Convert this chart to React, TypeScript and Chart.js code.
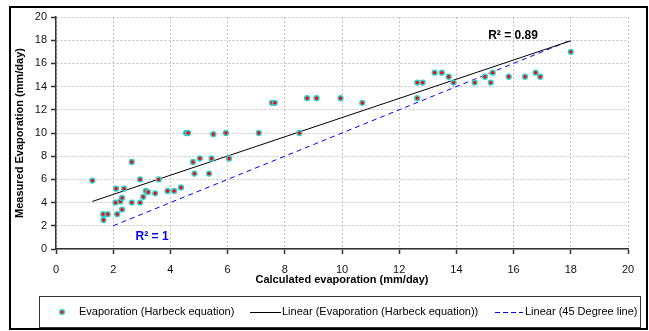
import React, { useEffect, useRef } from 'react';
import { Chart, registerables } from 'chart.js';

Chart.register(...registerables);

const FONT = "Arial, 'Liberation Sans', sans-serif";

// Calculated (Harbeck) vs measured evaporation, mm/day
const calcEvap = [
  1.27, 1.65, 1.66, 1.81, 2.08, 2.1, 2.14, 2.25, 2.31, 2.31,
  2.38, 2.65, 2.65, 2.94, 2.94, 3.05, 3.14, 3.22, 3.47, 3.59,
  3.9, 4.13, 4.37, 4.55, 4.62, 4.79, 4.84, 5.03, 5.35, 5.44,
  5.5, 5.94, 6.05, 7.09, 7.55, 7.65, 8.51, 8.78, 9.11, 9.95,
  10.71, 12.63, 12.63, 12.82, 13.24, 13.49, 13.73, 13.9, 14.64, 15.0,
  15.2, 15.27, 15.83, 16.4, 16.77, 16.93, 18.0,
];
const measEvap = [
  5.9, 3.0, 2.5, 3.0, 4.0, 5.2, 3.0, 4.1, 4.4, 3.4,
  5.2, 7.5, 4.0, 6.0, 4.0, 4.5, 5.0, 4.9, 4.8, 6.0,
  5.0, 5.0, 5.3, 10.0, 10.0, 7.5, 6.5, 7.8, 6.5, 7.8,
  9.9, 10.0, 7.8, 10.0, 12.6, 12.6, 10.0, 13.0, 13.0, 13.0,
  12.6, 13.0, 14.35, 14.35, 15.2, 15.2, 14.85, 14.35, 14.35, 14.85,
  14.35, 15.2, 14.85, 14.85, 15.2, 14.85, 17.0,
];

// Linear trend of the measured values (end points)
const trendX = [1.27, 18];
const trendY = [4.1, 17.95];

// 45 degree reference line
const lineX = [2, 18];
const lineY = [2, 18];

const fitLabel = 'R² = 0.89';
const fitLabelAt = [15.98, 18.4];
const refLabel = 'R² = 1';
const refLabelAt = [3.36, 1.06];

const legendLabels = [
  'Evaporation (Harbeck equation)',
  'Linear (Evaporation (Harbeck equation))',
  'Linear (45 Degree line)',
];

const POINT_FILL = '#ff0000';
const POINT_EDGE = '#33cccc';
const TREND_COLOR = '#000000';
const REF_COLOR = '#0000ff';

const toXY = (xs: number[], ys: number[]) => xs.map((x, i) => ({ x, y: ys[i] }));

const decorPlugin = {
  id: 'decor',
  afterDraw(chart: any) {
    const { ctx, scales } = chart;
    const xs = scales.x;
    const ys = scales.y;
    ctx.save();

    // outer frame
    ctx.strokeStyle = '#000';
    ctx.lineWidth = 2;
    ctx.strokeRect(10, 7, 637, 322);

    // R² annotations
    ctx.font = `bold 12px ${FONT}`;
    ctx.textAlign = 'center';
    ctx.textBaseline = 'middle';
    ctx.fillStyle = '#000';
    ctx.fillText(fitLabel, xs.getPixelForValue(fitLabelAt[0]), ys.getPixelForValue(fitLabelAt[1]));
    ctx.fillStyle = REF_COLOR;
    ctx.fillText(refLabel, xs.getPixelForValue(refLabelAt[0]), ys.getPixelForValue(refLabelAt[1]));

    // legend box
    ctx.strokeStyle = '#333';
    ctx.lineWidth = 1;
    ctx.strokeRect(39.5, 296.5, 601, 31);

    const cy = 312;
    ctx.font = `11px ${FONT}`;
    ctx.fillStyle = '#000';
    ctx.textAlign = 'left';

    // marker
    ctx.beginPath();
    ctx.arc(62, cy, 2.3, 0, Math.PI * 2);
    ctx.fillStyle = POINT_FILL;
    ctx.fill();
    ctx.lineWidth = 1.5;
    ctx.strokeStyle = POINT_EDGE;
    ctx.stroke();
    ctx.fillStyle = '#000';
    ctx.fillText(legendLabels[0], 79, cy);

    // trend sample
    ctx.beginPath();
    ctx.strokeStyle = TREND_COLOR;
    ctx.lineWidth = 1;
    ctx.moveTo(250, cy + 0.5);
    ctx.lineTo(281, cy + 0.5);
    ctx.stroke();
    ctx.fillText(legendLabels[1], 282, cy);

    // 45 degree sample
    ctx.beginPath();
    ctx.strokeStyle = REF_COLOR;
    ctx.setLineDash([5, 3]);
    ctx.moveTo(495, cy + 0.5);
    ctx.lineTo(523, cy + 0.5);
    ctx.stroke();
    ctx.setLineDash([]);
    ctx.fillText(legendLabels[2], 525, cy);

    ctx.restore();
  },
};

export default function App() {
  const canvasRef = useRef<HTMLCanvasElement | null>(null);

  useEffect(() => {
    const canvas = canvasRef.current;
    if (!canvas) return;

    const axisCommon = {
      type: 'linear' as const,
      min: 0,
      max: 20,
      grid: {
        color: '#c4c4c4',
        lineWidth: 1,
        drawTicks: true,
        tickLength: 5,
        tickColor: '#333',
        tickWidth: 1.5,
        tickBorderDash: [],
      },
      border: { display: true, color: '#333', width: 1.5, dash: [2, 2] },
    };

    const chart = new Chart(canvas, {
      type: 'scatter',
      data: {
        datasets: [
          {
            label: legendLabels[0],
            data: toXY(calcEvap, measEvap),
            backgroundColor: POINT_FILL,
            borderColor: POINT_EDGE,
            borderWidth: 1.5,
            pointRadius: 2.4,
            showLine: false,
            order: 0,
          },
          {
            label: legendLabels[1],
            data: toXY(trendX, trendY),
            borderColor: TREND_COLOR,
            borderWidth: 1,
            pointRadius: 0,
            showLine: true,
            order: 1,
          },
          {
            label: legendLabels[2],
            data: toXY(lineX, lineY),
            borderColor: REF_COLOR,
            borderWidth: 1,
            borderDash: [5, 4],
            pointRadius: 0,
            showLine: true,
            order: 2,
          },
        ],
      },
      options: {
        responsive: false,
        animation: false,
        devicePixelRatio: 1,
        events: [],
        layout: { padding: { left: 0, right: 21, top: 17, bottom: 0 } },
        plugins: {
          legend: { display: false },
          tooltip: { enabled: false },
        },
        scales: {
          x: {
            ...axisCommon,
            position: 'bottom',
            ticks: { stepSize: 2, padding: 9, color: '#111', font: { size: 11, family: FONT } },
            title: {
              display: true,
              text: 'Calculated evaporation (mm/day)',
              color: '#000',
              font: { size: 11, weight: 'bold', family: FONT },
              padding: { top: 0, bottom: 44 },
            },
            afterFit(scale: any) {
              scale.height = 82;
            },
          },
          y: {
            ...axisCommon,
            position: 'left',
            ticks: { stepSize: 2, padding: 4, color: '#111', font: { size: 11, family: FONT } },
            title: {
              display: true,
              text: 'Measured Evaporation (mm/day)',
              color: '#000',
              font: { size: 11, weight: 'bold', family: FONT },
              padding: { top: 13, bottom: 0 },
            },
            afterFit(scale: any) {
              scale.width = 56;
            },
          },
        },
      },
      plugins: [decorPlugin],
    });

    return () => chart.destroy();
  }, []);

  return (
    <div style={{ position: 'fixed', left: 0, top: 0, width: 649, height: 331, background: '#fff' }}>
      <canvas ref={canvasRef} width={649} height={331} />
    </div>
  );
}
